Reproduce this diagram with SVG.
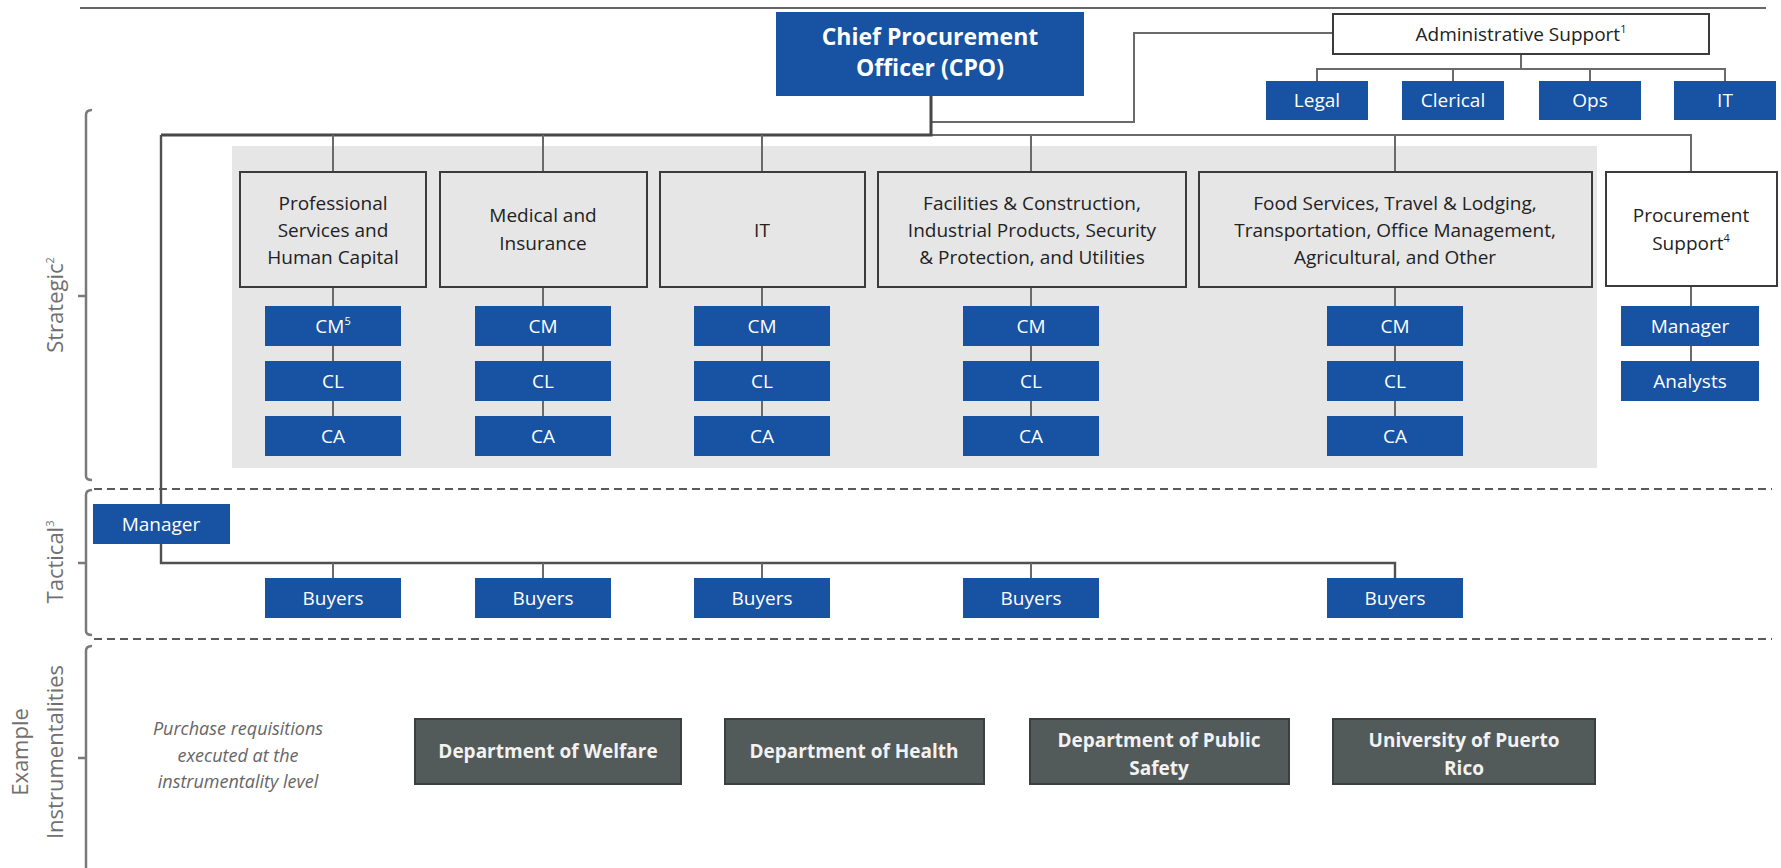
<svg xmlns="http://www.w3.org/2000/svg" width="1781" height="868" viewBox="0 0 1781 868">
<defs>
<style>
text{font-family:"Open Sans","Noto Sans","Liberation Sans",sans-serif;}
.bl{fill:#1752a3;}
.bt{fill:#ffffff;font-size:19px;text-anchor:middle;}
.cat{fill:#e6e6e6;stroke:#3b3b3b;stroke-width:2;}
.wb{fill:#ffffff;stroke:#3b3b3b;stroke-width:2;}
.ct{fill:#222;font-size:19px;text-anchor:middle;}
.dp{fill:#535a5a;stroke:#3a4040;stroke-width:2;}
.dt{fill:#f2f2f2;font-size:19px;font-weight:bold;text-anchor:middle;}
.ln{fill:none;stroke:#6a6a6a;stroke-width:2;}
.lk{fill:none;stroke:#474747;stroke-width:3;}
.lm{fill:none;stroke:#505050;stroke-width:2.4;}
.br{fill:none;stroke:#7a7a7a;stroke-width:2.5;}
.ds{fill:none;stroke:#5a5a5a;stroke-width:1.8;stroke-dasharray:8 5;}
.lv{fill:#707070;font-size:22px;text-anchor:middle;}
.sup{font-size:11px;}
</style>
</defs>

<!-- frame -->
<line x1="80" y1="8" x2="1766" y2="8" stroke="#333" stroke-width="1.5"/>
<rect x="232" y="146" width="1365" height="322" fill="#e6e6e6"/>

<!-- level brackets and separators -->
<g id="levels">
<path class="br" d="M92,110 Q86,110 86,115 L86,476 Q86,480 92,480 M86,296 L78,296"/>
<path class="br" d="M92,490 Q86,490 86,495 L86,631 Q86,635 92,635 M86,563 L78,563"/>
<path class="br" d="M92,646 Q86,646 86,651 L86,868 M86,758 L78,758"/>
<line class="ds" x1="94" y1="489" x2="1772" y2="489"/>
<line class="ds" x1="94" y1="639" x2="1772" y2="639"/>
<text class="lv" transform="translate(63,305) rotate(-90)">Strategic<tspan class="sup" dy="-9">2</tspan></text>
<text class="lv" transform="translate(63,562) rotate(-90)">Tactical<tspan class="sup" dy="-9">3</tspan></text>
<text class="lv" transform="translate(28,752) rotate(-90)">Example</text>
<text class="lv" transform="translate(63,752) rotate(-90)">Instrumentalities</text>
</g>

<!-- connectors -->
<g id="connectors">
<path class="ln" d="M931,122 L1134,122 L1134,33 L1333,33"/>
<path class="ln" d="M1521,54 L1521,69 M1317,81 L1317,69 L1725,69 L1725,81 M1453,69 L1453,81 M1590,69 L1590,81"/>
<path class="ln" d="M931,135 L1691,135 L1691,172 M1031,135 L1031,172 M1395,135 L1395,172"/>
<path class="lk" d="M931,96 L931,135 L161,135"/>
<path class="lm" d="M161,135 L161,563 L1395,563 L1395,578"/>
<path class="ln" d="M333,135 L333,172 M543,135 L543,172 M762,135 L762,172"/>
<path class="ln" d="M333,287 L333,416 M543,287 L543,416 M762,287 L762,416 M1031,287 L1031,416 M1395,287 L1395,416 M1691,286 L1691,361"/>
<path class="ln" d="M333,563 L333,578 M543,563 L543,578 M762,563 L762,578 M1031,563 L1031,578"/>
</g>

<g id="cpo">
<rect class="bl" x="776" y="12" width="308" height="84"/>
<text fill="#fff" font-size="23" font-weight="bold" text-anchor="middle"><tspan x="930" y="44.5">Chief Procurement</tspan><tspan x="930" y="76">Officer (CPO)</tspan></text>
</g>

<g id="admin">
<rect class="wb" x="1333" y="14" width="376" height="40"/>
<text class="ct" x="1521" y="41">Administrative Support<tspan class="sup" dy="-8">1</tspan></text>
</g>
<g id="legal"><rect class="bl" x="1266" y="81" width="102" height="39"/><text class="bt" x="1317" y="107">Legal</text></g>
<g id="clerical"><rect class="bl" x="1402" y="81" width="102" height="39"/><text class="bt" x="1453" y="107">Clerical</text></g>
<g id="ops"><rect class="bl" x="1539" y="81" width="102" height="39"/><text class="bt" x="1590" y="107">Ops</text></g>
<g id="it-admin"><rect class="bl" x="1674" y="81" width="102" height="39"/><text class="bt" x="1725" y="107">IT</text></g>

<!-- categories -->
<g id="cat-prof">
<rect class="cat" x="240" y="172" width="186" height="115"/>
<text class="ct" x="333" y="210">Professional</text>
<text class="ct" x="333" y="237">Services and</text>
<text class="ct" x="333" y="264">Human Capital</text>
</g>
<g id="cat-med">
<rect class="cat" x="440" y="172" width="207" height="115"/>
<text class="ct" x="543" y="222">Medical and</text>
<text class="ct" x="543" y="250">Insurance</text>
</g>
<g id="cat-it">
<rect class="cat" x="660" y="172" width="205" height="115"/>
<text class="ct" x="762" y="237">IT</text>
</g>
<g id="cat-fac">
<rect class="cat" x="878" y="172" width="308" height="115"/>
<text class="ct" x="1032" y="210">Facilities &amp; Construction,</text>
<text class="ct" x="1032" y="237">Industrial Products, Security</text>
<text class="ct" x="1032" y="264">&amp; Protection, and Utilities</text>
</g>
<g id="cat-food">
<rect class="cat" x="1199" y="172" width="393" height="115"/>
<text class="ct" x="1395" y="210">Food Services, Travel &amp; Lodging,</text>
<text class="ct" x="1395" y="237">Transportation, Office Management,</text>
<text class="ct" x="1395" y="264">Agricultural, and Other</text>
</g>
<g id="cat-proc">
<rect class="wb" x="1606" y="172" width="171" height="114"/>
<text class="ct" x="1691" y="222">Procurement</text>
<text class="ct" x="1691" y="250">Support<tspan class="sup" dy="-8">4</tspan></text>
</g>

<!-- CM / CL / CA -->
<g id="prof-cm"><rect class="bl" x="265" y="306" width="136" height="40"/><text class="bt" x="333" y="333">CM<tspan class="sup" dy="-8">5</tspan></text></g>
<g id="prof-cl"><rect class="bl" x="265" y="361" width="136" height="40"/><text class="bt" x="333" y="388">CL</text></g>
<g id="prof-ca"><rect class="bl" x="265" y="416" width="136" height="40"/><text class="bt" x="333" y="443">CA</text></g>
<g id="med-cm"><rect class="bl" x="475" y="306" width="136" height="40"/><text class="bt" x="543" y="333">CM</text></g>
<g id="med-cl"><rect class="bl" x="475" y="361" width="136" height="40"/><text class="bt" x="543" y="388">CL</text></g>
<g id="med-ca"><rect class="bl" x="475" y="416" width="136" height="40"/><text class="bt" x="543" y="443">CA</text></g>
<g id="it-cm"><rect class="bl" x="694" y="306" width="136" height="40"/><text class="bt" x="762" y="333">CM</text></g>
<g id="it-cl"><rect class="bl" x="694" y="361" width="136" height="40"/><text class="bt" x="762" y="388">CL</text></g>
<g id="it-ca"><rect class="bl" x="694" y="416" width="136" height="40"/><text class="bt" x="762" y="443">CA</text></g>
<g id="fac-cm"><rect class="bl" x="963" y="306" width="136" height="40"/><text class="bt" x="1031" y="333">CM</text></g>
<g id="fac-cl"><rect class="bl" x="963" y="361" width="136" height="40"/><text class="bt" x="1031" y="388">CL</text></g>
<g id="fac-ca"><rect class="bl" x="963" y="416" width="136" height="40"/><text class="bt" x="1031" y="443">CA</text></g>
<g id="food-cm"><rect class="bl" x="1327" y="306" width="136" height="40"/><text class="bt" x="1395" y="333">CM</text></g>
<g id="food-cl"><rect class="bl" x="1327" y="361" width="136" height="40"/><text class="bt" x="1395" y="388">CL</text></g>
<g id="food-ca"><rect class="bl" x="1327" y="416" width="136" height="40"/><text class="bt" x="1395" y="443">CA</text></g>
<g id="proc-manager"><rect class="bl" x="1621" y="306" width="138" height="40"/><text class="bt" x="1690" y="333">Manager</text></g>
<g id="proc-analysts"><rect class="bl" x="1621" y="361" width="138" height="40"/><text class="bt" x="1690" y="388">Analysts</text></g>

<!-- tactical -->
<g id="tac-manager"><rect class="bl" x="93" y="504" width="137" height="40"/><text class="bt" x="161" y="531">Manager</text></g>
<g id="buyers-1"><rect class="bl" x="265" y="578" width="136" height="40"/><text class="bt" x="333" y="605">Buyers</text></g>
<g id="buyers-2"><rect class="bl" x="475" y="578" width="136" height="40"/><text class="bt" x="543" y="605">Buyers</text></g>
<g id="buyers-3"><rect class="bl" x="694" y="578" width="136" height="40"/><text class="bt" x="762" y="605">Buyers</text></g>
<g id="buyers-4"><rect class="bl" x="963" y="578" width="136" height="40"/><text class="bt" x="1031" y="605">Buyers</text></g>
<g id="buyers-5"><rect class="bl" x="1327" y="578" width="136" height="40"/><text class="bt" x="1395" y="605">Buyers</text></g>

<!-- instrumentalities -->
<g id="note">
<text x="238" y="735" fill="#666" font-size="18" font-style="italic" text-anchor="middle">Purchase requisitions</text>
<text x="238" y="762" fill="#666" font-size="18" font-style="italic" text-anchor="middle">executed at the</text>
<text x="238" y="788" fill="#666" font-size="18" font-style="italic" text-anchor="middle">instrumentality level</text>
</g>
<g id="dept-welfare"><rect class="dp" x="415" y="719" width="266" height="65"/><text class="dt" x="548" y="758">Department of Welfare</text></g>
<g id="dept-health"><rect class="dp" x="725" y="719" width="259" height="65"/><text class="dt" x="854" y="758">Department of Health</text></g>
<g id="dept-safety"><rect class="dp" x="1030" y="719" width="259" height="65"/><text class="dt" x="1159" y="747">Department of Public</text><text class="dt" x="1159" y="775">Safety</text></g>
<g id="univ-pr"><rect class="dp" x="1333" y="719" width="262" height="65"/><text class="dt" x="1464" y="747">University of Puerto</text><text class="dt" x="1464" y="775">Rico</text></g>
</svg>
